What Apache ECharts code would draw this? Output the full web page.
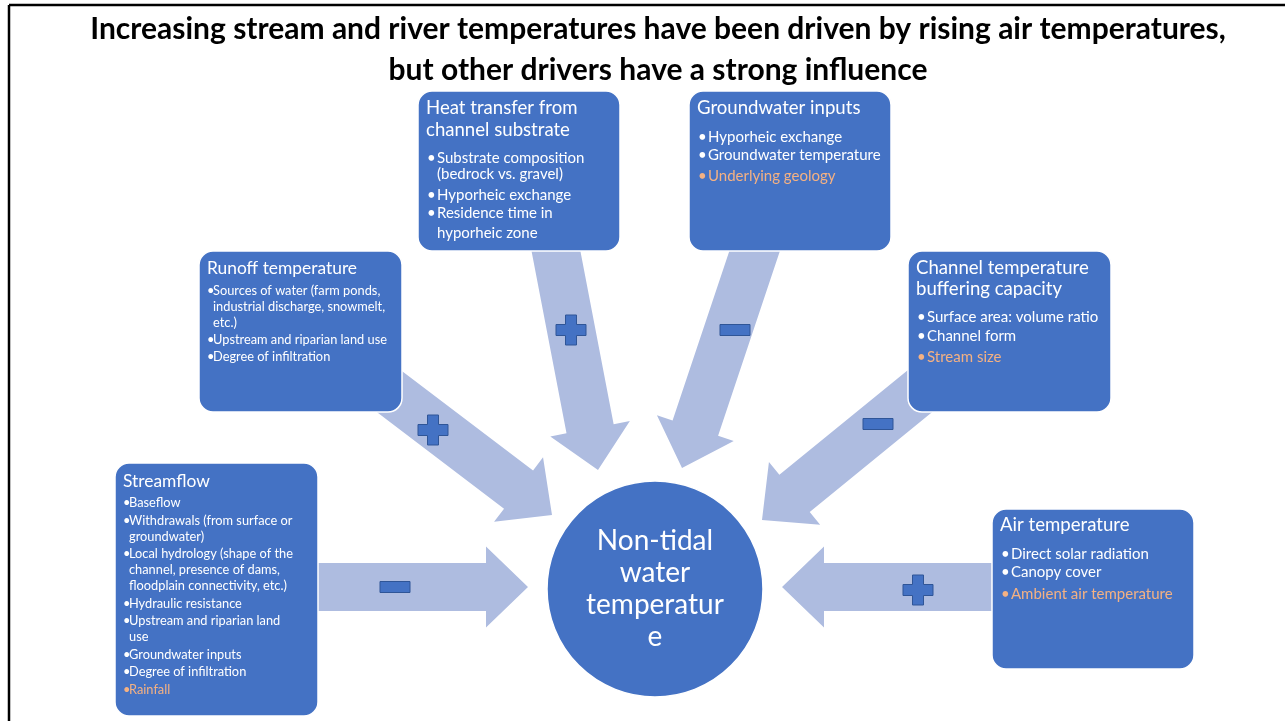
<!DOCTYPE html>
<html><head><meta charset="utf-8">
<script src="https://cdn.jsdelivr.net/npm/echarts@6/dist/echarts.min.js"></script>
<style>html,body{margin:0;padding:0;background:#fff}#c{width:1285px;height:721px}</style>
</head><body><div id="c"></div>
<script>
// ---------- content ----------
const titleLines = [
  'Increasing stream and river temperatures have been driven by rising air temperatures,',
  'but other drivers have a strong influence'
];
const centerLabel = ['Non-tidal', 'water', 'temperatur', 'e'];
const driverNames = [
  ['Streamflow'],
  ['Runoff temperature'],
  ['Heat transfer from', 'channel substrate'],
  ['Groundwater inputs'],
  ['Channel temperature', 'buffering capacity'],
  ['Air temperature']
];
const streamflowItems = [
  ['Baseflow'],
  ['Withdrawals (from surface or', 'groundwater)'],
  ['Local hydrology (shape of the', 'channel, presence of dams,', 'floodplain connectivity, etc.)'],
  ['Hydraulic resistance'],
  ['Upstream and riparian land', 'use'],
  ['Groundwater inputs'],
  ['Degree of infiltration'],
  ['Rainfall']
];
const runoffItems = [
  ['Sources of water (farm ponds,', 'industrial discharge, snowmelt,', 'etc.)'],
  ['Upstream and riparian land use'],
  ['Degree of infiltration']
];
const substrateItems = [
  ['Substrate composition', '(bedrock vs. gravel)'],
  ['Hyporheic exchange'],
  ['Residence time in', 'hyporheic zone']
];
const groundwaterItems = [
  ['Hyporheic exchange'],
  ['Groundwater temperature'],
  ['Underlying geology']
];
const bufferingItems = [
  ['Surface area: volume ratio'],
  ['Channel form'],
  ['Stream size']
];
const airItems = [
  ['Direct solar radiation'],
  ['Canopy cover'],
  ['Ambient air temperature']
];
const driverItems = [streamflowItems, runoffItems, substrateItems, groundwaterItems, bufferingItems, airItems];
const highlightedItems = [[7], [], [], [2], [2], [2]];   // items shown in orange
const driverEffects = ['-', '+', '+', '-', '-', '+'];

// ---------- layout ----------
const boxLayout = [
  {x:115, y:463, w:203, h:253, tx:123, titleY:[481], titleSize:17.4, bodySize:12.8, tight:true,
   bodyY:[503,520.5,536.5,554,570,586,603.5,621,637,654.5,672,689.5]},
  {x:199, y:251, w:203, h:161, tx:207, titleY:[268], titleSize:17.4, bodySize:12.8, tight:true,
   bodyY:[291,307,323,340,357]},
  {x:418, y:91, w:202, h:160, tx:426, titleY:[108,130], titleSize:18.6, bodySize:15, tight:false,
   bodyY:[158,174,195,213,233]},
  {x:689, y:91, w:202, h:160, tx:697, titleY:[108], titleSize:18.6, bodySize:15, tight:false,
   bodyY:[137,155,176]},
  {x:908, y:251, w:203, h:161, tx:916, titleY:[268,289], titleSize:18.6, bodySize:15, tight:false,
   bodyY:[317,336,357]},
  {x:992, y:509, w:202, h:160, tx:1000, titleY:[525], titleSize:18.6, bodySize:15, tight:false,
   bodyY:[554,572,594]}
];
// arrows: start, tip
const arrowLayout = [
  {s:[300,587], t:[528,587]},
  {s:[361,370], t:[552,515]},
  {s:[550,220], t:[598,470]},
  {s:[765,220], t:[682,468]},
  {s:[979,343], t:[762,520]},
  {s:[1010,587], t:[782,587]}
];
const signLayout = [[395,587],[433,430],[571,330],[735,330],[878,424],[918,590]];
const circle = {cx:655, cy:589, r:108};

const BLUE = '#4472C4', ARROW = '#AEBCE0', HL = '#F4B183', SIGN_STROKE = '#2F5597';
const FONT = 'Lato, "Open Sans", sans-serif';
const SHAFT = 48, HEAD_W = 81, HEAD_L = 42;

function arrowPoints(s, t) {
  const dx = t[0]-s[0], dy = t[1]-s[1], L = Math.hypot(dx, dy);
  const ux = dx/L, uy = dy/L, nx = -uy, ny = ux;
  const bx = t[0]-ux*HEAD_L, by = t[1]-uy*HEAD_L;
  const p = (x, y, k) => [x + nx*k, y + ny*k];
  return [p(s[0],s[1],SHAFT/2), p(bx,by,SHAFT/2), p(bx,by,HEAD_W/2), t,
          p(bx,by,-HEAD_W/2), p(bx,by,-SHAFT/2), p(s[0],s[1],-SHAFT/2)];
}
function signPoints(c, kind) {
  const a = 15, b = 5.5, x = c[0], y = c[1];
  if (kind === '-') return [[x-a,y-b],[x+a,y-b],[x+a,y+b],[x-a,y+b]];
  return [[x-b,y-a],[x+b,y-a],[x+b,y-b],[x+a,y-b],[x+a,y+b],[x+b,y+b],[x+b,y+a],
          [x-b,y+a],[x-b,y+b],[x-a,y+b],[x-a,y-b],[x-b,y-b]];
}

const g = [];
// frame
g.push({type:'line', shape:{x1:9,y1:5,x2:1285,y2:5}, style:{stroke:'#000', lineWidth:2.5}, z:1});
g.push({type:'line', shape:{x1:9,y1:5,x2:9,y2:721}, style:{stroke:'#000', lineWidth:2.5}, z:1});
// title
titleLines.forEach((t, i) => g.push({type:'text', x:658, y:29 + i*41, z:10,
  style:{text:t, fill:'#000', font:'bold 30px ' + FONT, align:'center', verticalAlign:'middle'}}));
// arrows
arrowLayout.forEach(a => g.push({type:'polygon', shape:{points:arrowPoints(a.s, a.t)},
  style:{fill:ARROW}, z:2}));
// signs
driverEffects.forEach((k, i) => g.push({type:'polygon', shape:{points:signPoints(signLayout[i], k)},
  style:{fill:BLUE, stroke:SIGN_STROKE, lineWidth:1}, z:3}));
// circle
g.push({type:'circle', shape:{cx:circle.cx, cy:circle.cy, r:circle.r}, style:{fill:BLUE, stroke:'#fff', lineWidth:1.5}, z:4});
centerLabel.forEach((t, i) => g.push({type:'text', x:circle.cx, y:541 + i*32, z:5,
  style:{text:t, fill:'#fff', font:'28px ' + FONT, align:'center', verticalAlign:'middle'}}));
// boxes
boxLayout.forEach((b, i) => {
  g.push({type:'rect', shape:{x:b.x, y:b.y, width:b.w, height:b.h, r:14},
    style:{fill:BLUE, stroke:'#fff', lineWidth:1.5}, z:6});
  driverNames[i].forEach((t, j) => g.push({type:'text', x:b.tx, y:b.titleY[j], z:7,
    style:{text:t, fill:'#fff', font:b.titleSize + 'px ' + FONT, verticalAlign:'middle'}}));
  let li = 0;
  driverItems[i].forEach((item, k) => {
    const col = highlightedItems[i].includes(k) ? HL : '#fff';
    const textX = b.tx + (b.tight ? 6 : 11);
    item.forEach((line, m) => {
      const y = b.bodyY[li++];
      if (m === 0) g.push({type:'text', x:b.tx + (b.tight ? 0 : 1), y:y, z:7,
        style:{text:'•', fill:col, font:b.bodySize + 'px ' + FONT, verticalAlign:'middle'}});
      g.push({type:'text', x:textX, y:y, z:7,
        style:{text:line, fill:col, font:b.bodySize + 'px ' + FONT, verticalAlign:'middle'}});
    });
  });
});

const chart = echarts.init(document.getElementById('c'), null, {renderer:'canvas'});
chart.setOption({animation:false, graphic:{elements:g}});
</script>
</body></html>
